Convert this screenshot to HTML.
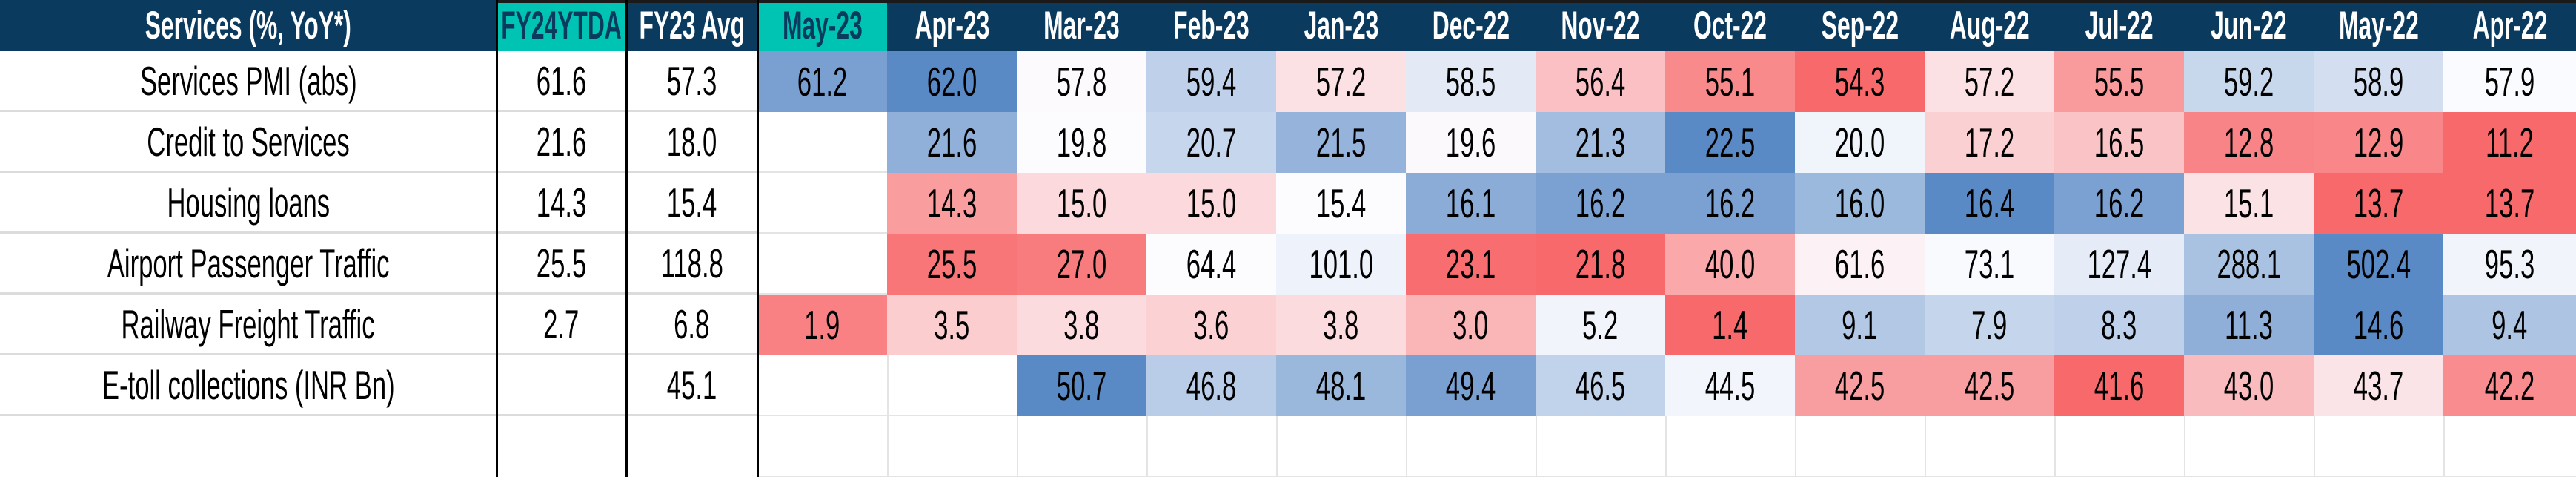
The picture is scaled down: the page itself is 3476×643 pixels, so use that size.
<!DOCTYPE html>
<html><head><meta charset="utf-8"><style>
html,body{margin:0;padding:0;background:#fff;}
body{width:3476px;height:643px;overflow:hidden;position:relative;font-family:"Liberation Sans",sans-serif;}
.g{position:absolute;left:0;top:0;display:grid;grid-template-columns:670px 175px 177px repeat(13,175px) 179px;grid-template-rows:69px repeat(7,82px);}
.g>div{display:flex;align-items:center;justify-content:center;box-sizing:border-box;overflow:visible;white-space:nowrap;}
.g>div>span{display:inline-block;transform:scaleX(0.63);font-size:55px;color:#000;}
.h{background:#0a3a5e;}
.h>span{color:#fff!important;font-weight:bold;font-size:53px!important;transform:scaleX(0.6)!important;}
.t{background:#00c4b3!important;}
.t>span{color:#0a3a5e!important;}
.c{border-bottom:3px solid #dcdcdc;}
.e{border-left:2px solid #e4e4e4;border-bottom:2px solid #e4e4e4;}
.vl{position:absolute;top:0;width:3px;height:643px;background:#000;}
.top{position:absolute;left:670px;top:0;width:2806px;height:4px;background:#1a1a1a;}
</style></head><body>
<div class="g" id="g">
<div class="h"><span>Services (%, YoY*)</span></div>
<div class="h t"><span>FY24YTDA</span></div>
<div class="h"><span>FY23 Avg</span></div>
<div class="h t"><span>May-23</span></div>
<div class="h"><span>Apr-23</span></div>
<div class="h"><span>Mar-23</span></div>
<div class="h"><span>Feb-23</span></div>
<div class="h"><span>Jan-23</span></div>
<div class="h"><span>Dec-22</span></div>
<div class="h"><span>Nov-22</span></div>
<div class="h"><span>Oct-22</span></div>
<div class="h"><span>Sep-22</span></div>
<div class="h"><span>Aug-22</span></div>
<div class="h"><span>Jul-22</span></div>
<div class="h"><span>Jun-22</span></div>
<div class="h"><span>May-22</span></div>
<div class="h"><span>Apr-22</span></div>

<div class="c"><span>Services PMI (abs)</span></div><div class="c"><span>61.6</span></div><div class="c"><span>57.3</span></div>
<div class="m r1"><span>61.2</span></div><div class="m r1"><span>62.0</span></div><div class="m r1"><span>57.8</span></div><div class="m r1"><span>59.4</span></div><div class="m r1"><span>57.2</span></div><div class="m r1"><span>58.5</span></div><div class="m r1"><span>56.4</span></div><div class="m r1"><span>55.1</span></div><div class="m r1"><span>54.3</span></div><div class="m r1"><span>57.2</span></div><div class="m r1"><span>55.5</span></div><div class="m r1"><span>59.2</span></div><div class="m r1"><span>58.9</span></div><div class="m r1"><span>57.9</span></div>

<div class="c"><span>Credit to Services</span></div><div class="c"><span>21.6</span></div><div class="c"><span>18.0</span></div>
<div class="e"></div><div class="m r2"><span>21.6</span></div><div class="m r2"><span>19.8</span></div><div class="m r2"><span>20.7</span></div><div class="m r2"><span>21.5</span></div><div class="m r2"><span>19.6</span></div><div class="m r2"><span>21.3</span></div><div class="m r2"><span>22.5</span></div><div class="m r2"><span>20.0</span></div><div class="m r2"><span>17.2</span></div><div class="m r2"><span>16.5</span></div><div class="m r2"><span>12.8</span></div><div class="m r2"><span>12.9</span></div><div class="m r2"><span>11.2</span></div>

<div class="c"><span>Housing loans</span></div><div class="c"><span>14.3</span></div><div class="c"><span>15.4</span></div>
<div class="e"></div><div class="m r3"><span>14.3</span></div><div class="m r3"><span>15.0</span></div><div class="m r3"><span>15.0</span></div><div class="m r3"><span>15.4</span></div><div class="m r3"><span>16.1</span></div><div class="m r3"><span>16.2</span></div><div class="m r3"><span>16.2</span></div><div class="m r3"><span>16.0</span></div><div class="m r3"><span>16.4</span></div><div class="m r3"><span>16.2</span></div><div class="m r3"><span>15.1</span></div><div class="m r3"><span>13.7</span></div><div class="m r3"><span>13.7</span></div>

<div class="c"><span>Airport Passenger Traffic</span></div><div class="c"><span>25.5</span></div><div class="c"><span>118.8</span></div>
<div class="e"></div><div class="m r4"><span>25.5</span></div><div class="m r4"><span>27.0</span></div><div class="m r4"><span>64.4</span></div><div class="m r4"><span>101.0</span></div><div class="m r4"><span>23.1</span></div><div class="m r4"><span>21.8</span></div><div class="m r4"><span>40.0</span></div><div class="m r4"><span>61.6</span></div><div class="m r4"><span>73.1</span></div><div class="m r4"><span>127.4</span></div><div class="m r4"><span>288.1</span></div><div class="m r4"><span>502.4</span></div><div class="m r4"><span>95.3</span></div>

<div class="c"><span>Railway Freight Traffic</span></div><div class="c"><span>2.7</span></div><div class="c"><span>6.8</span></div>
<div class="m r5"><span>1.9</span></div><div class="m r5"><span>3.5</span></div><div class="m r5"><span>3.8</span></div><div class="m r5"><span>3.6</span></div><div class="m r5"><span>3.8</span></div><div class="m r5"><span>3.0</span></div><div class="m r5"><span>5.2</span></div><div class="m r5"><span>1.4</span></div><div class="m r5"><span>9.1</span></div><div class="m r5"><span>7.9</span></div><div class="m r5"><span>8.3</span></div><div class="m r5"><span>11.3</span></div><div class="m r5"><span>14.6</span></div><div class="m r5"><span>9.4</span></div>

<div class="c"><span>E-toll collections (INR Bn)</span></div><div class="c"></div><div class="c"><span>45.1</span></div>
<div class="e"></div><div class="e"></div><div class="m r6"><span>50.7</span></div><div class="m r6"><span>46.8</span></div><div class="m r6"><span>48.1</span></div><div class="m r6"><span>49.4</span></div><div class="m r6"><span>46.5</span></div><div class="m r6"><span>44.5</span></div><div class="m r6"><span>42.5</span></div><div class="m r6"><span>42.5</span></div><div class="m r6"><span>41.6</span></div><div class="m r6"><span>43.0</span></div><div class="m r6"><span>43.7</span></div><div class="m r6"><span>42.2</span></div>

<div></div><div></div><div></div>
<div class="e"></div><div class="e"></div><div class="e"></div><div class="e"></div><div class="e"></div><div class="e"></div><div class="e"></div><div class="e"></div><div class="e"></div><div class="e"></div><div class="e"></div><div class="e"></div><div class="e"></div><div class="e"></div>
</div>
<div class="top"></div>
<div class="vl" style="left:669px"></div>
<div class="vl" style="left:844px"></div>
<div class="vl" style="left:1021px"></div>
<script>
var R=[248,105,107],W=[252,252,255],B=[90,138,198];
function mix(a,b,t){return 'rgb('+a.map(function(v,i){return Math.round(v+(b[i]-v)*t)}).join(',')+')';}
for(var r=1;r<=6;r++){
  var els=[].slice.call(document.querySelectorAll('.r'+r));
  var v=els.map(function(e){return parseFloat(e.textContent)});
  var s=v.slice().sort(function(a,b){return a-b});
  var n=s.length, med=n%2?s[(n-1)/2]:(s[n/2-1]+s[n/2])/2;
  var mn=s[0],mx=s[n-1];
  els.forEach(function(e,i){var x=v[i],c;
    if(x<=med)c=mix(R,W,(x-mn)/(med-mn||1));else c=mix(W,B,(x-med)/(mx-med||1));
    e.style.background=c;});
}
</script>
</body></html>
